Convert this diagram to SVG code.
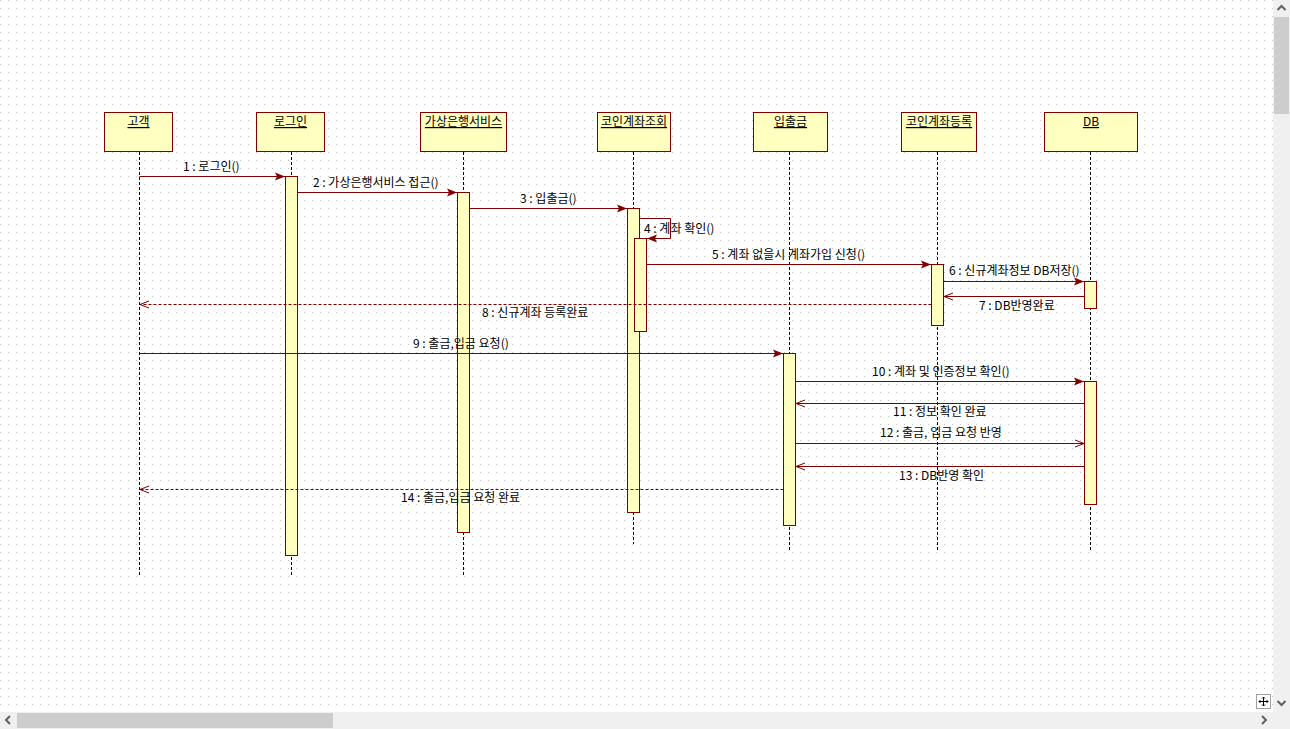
<svg xmlns="http://www.w3.org/2000/svg" width="1290" height="729" viewBox="0 0 1290 729">
<defs>
<pattern id="grid" x="0" y="0" width="8" height="8" patternUnits="userSpaceOnUse">
<rect x="0" y="0" width="1" height="1" fill="#c4c4c4"/>
</pattern>
<marker id="filled" markerWidth="11" markerHeight="9" refX="10" refY="4.5" orient="auto" markerUnits="userSpaceOnUse">
<path d="M0,0.5 L10,4.5 L0,8.5 L2,4.5 Z" fill="#800000"/>
</marker>
<marker id="open" markerWidth="10" markerHeight="9" refX="9" refY="4.5" orient="auto" markerUnits="userSpaceOnUse">
<path d="M0,1 L9,4.5 L0,8" fill="none" stroke="#800000" stroke-width="1"/>
</marker>
</defs>
<style>
.box{fill:#ffffc0;stroke:#800000;stroke-width:1}
.act{fill:#ffffc0;stroke:#800000;stroke-width:1}
.life{stroke:#000;stroke-width:1;stroke-dasharray:3 2;fill:none}
.name{font-family:"Noto Sans CJK KR","Liberation Sans",sans-serif;font-size:12px;fill:#000;text-anchor:middle;text-decoration:underline}
.lbl{font-family:"Noto Sans CJK KR","Liberation Sans",sans-serif;font-size:12px;fill:#000}
.msg{stroke:#800000;stroke-width:1;fill:none}
.call{marker-end:url(#filled)}
.ret{marker-end:url(#open)}
.dash{stroke-dasharray:3 2}
.sb{fill:#f0f0f0}
.thumb{fill:#cdcdcd}
.chev{fill:none;stroke:#606060;stroke-width:2}
</style>
<rect x="0" y="0" width="1290" height="729" fill="#ffffff"/>
<rect x="0" y="0" width="1273" height="712" fill="url(#grid)"/>

<g id="lifelines">
<line class="life" x1="139.5" y1="152" x2="139.5" y2="575"/>
<line class="life" x1="291.5" y1="152" x2="291.5" y2="575"/>
<line class="life" x1="463.5" y1="152" x2="463.5" y2="575"/>
<line class="life" x1="633.5" y1="152" x2="633.5" y2="544"/>
<line class="life" x1="789.5" y1="152" x2="789.5" y2="551"/>
<line class="life" x1="937.5" y1="152" x2="937.5" y2="551"/>
<line class="life" x1="1090.5" y1="152" x2="1090.5" y2="551"/>
</g>

<g id="node-customer">
<rect class="box" x="104.5" y="112.5" width="68" height="39"/>
<text class="name" x="138.5" y="126">고객</text>
</g>
<g id="node-login">
<rect class="box" x="256.5" y="112.5" width="68" height="39"/>
<text class="name" x="290.5" y="126">로그인</text>
</g>
<g id="node-virtualbank">
<rect class="box" x="420.5" y="112.5" width="86" height="39"/>
<text class="name" x="463.5" y="126">가상은행서비스</text>
</g>
<g id="node-coinquery">
<rect class="box" x="597.5" y="112.5" width="73" height="39"/>
<text class="name" x="634" y="126">코인계좌조회</text>
</g>
<g id="node-deposit">
<rect class="box" x="753.5" y="112.5" width="74" height="39"/>
<text class="name" x="790.5" y="126">입출금</text>
</g>
<g id="node-coinregister">
<rect class="box" x="901.5" y="112.5" width="75" height="39"/>
<text class="name" x="939" y="126">코인계좌등록</text>
</g>
<g id="node-db">
<rect class="box" x="1044.5" y="112.5" width="93" height="39"/>
<text class="name" x="1091" y="126">DB</text>
</g>

<g id="activations">
<rect class="act" x="285.5" y="176.5" width="12" height="379"/>
<rect class="act" x="457.5" y="192.5" width="12" height="340"/>
<rect class="act" x="627.5" y="208.5" width="12" height="304"/>
<rect class="act" x="634.5" y="238.5" width="12" height="93"/>
<rect class="act" x="931.5" y="264.5" width="12" height="61"/>
<rect class="act" x="1084.5" y="281.5" width="12" height="27"/>
<rect class="act" x="783.5" y="353.5" width="12" height="172"/>
<rect class="act" x="1084.5" y="381.5" width="12" height="123"/>
</g>

<g id="connectors">
<line class="msg call" x1="139.5" y1="176.5" x2="285" y2="176.5"/>
<line class="msg call" x1="297.5" y1="192.5" x2="457" y2="192.5"/>
<line class="msg call" x1="469.5" y1="208.5" x2="627" y2="208.5"/>
<polyline class="msg call" points="639.5,218.5 670.5,218.5 670.5,238.5 647,238.5"/>
<line class="msg call" x1="646.5" y1="264.5" x2="931" y2="264.5"/>
<line class="msg call" x1="943.5" y1="281.5" x2="1084" y2="281.5"/>
<line class="msg ret" x1="1084.5" y1="296.5" x2="944" y2="296.5"/>
<line class="msg ret dash" x1="931.5" y1="304.5" x2="140" y2="304.5"/>
<line class="msg call" x1="139.5" y1="353.5" x2="783" y2="353.5"/>
<line class="msg call" x1="795.5" y1="381.5" x2="1084" y2="381.5"/>
<line class="msg ret" x1="1084.5" y1="403.5" x2="796" y2="403.5"/>
<line class="msg ret" x1="795.5" y1="443.5" x2="1084" y2="443.5"/>
<line class="msg ret" x1="1084.5" y1="466.5" x2="796" y2="466.5"/>
<line class="msg ret dash" x1="783.5" y1="489.5" x2="140" y2="489.5"/>
</g>

<g id="labels">
<text class="lbl" x="183" y="171">1 : 로그인()</text>
<text class="lbl" x="313" y="187">2 : 가상은행서비스 접근()</text>
<text class="lbl" x="520" y="203">3 : 입출금()</text>
<text class="lbl" x="644" y="233">4 : 계좌 확인()</text>
<text class="lbl" x="712" y="259">5 : 계좌 없을시 계좌가입 신청()</text>
<text class="lbl" x="949" y="275">6 : 신규계좌정보 DB저장()</text>
<text class="lbl" x="979" y="310">7 : DB반영완료</text>
<text class="lbl" x="482" y="317">8 : 신규계좌 등록완료</text>
<text class="lbl" x="413" y="348">9 : 출금,입금 요청()</text>
<text class="lbl" x="872" y="376">10 : 계좌 및 인증정보 확인()</text>
<text class="lbl" x="893" y="416">11 : 정보 확인 완료</text>
<text class="lbl" x="880" y="437">12 : 출금, 입금 요청 반영</text>
<text class="lbl" x="899" y="480">13 : DB반영 확인</text>
<text class="lbl" x="401" y="502">14 : 출금,입금 요청 완료</text>
</g>

<g id="scrollbars">
<rect class="sb" x="1273" y="0" width="17" height="729"/>
<rect class="sb" x="0" y="712" width="1273" height="17"/>
<rect class="thumb" x="1274" y="17" width="15" height="97"/>
<rect class="thumb" x="17" y="713" width="316" height="15"/>
<polyline class="chev" points="1277.5,10 1281.5,6 1285.5,10"/>
<polyline class="chev" points="1277.5,701 1281.5,705 1285.5,701"/>
<polyline class="chev" points="10,716 6,720 10,724"/>
<polyline class="chev" points="1262,716 1266,720 1262,724"/>
<rect x="1256.5" y="694.5" width="14" height="14" fill="#ffffff" stroke="#a0a0a0"/>
<path d="M1263.5,697 V706 M1259,701.5 H1268 M1262,698.5 L1263.5,697 L1265,698.5 M1262,704.5 L1263.5,706 L1265,704.5 M1260.5,700 L1259,701.5 L1260.5,703 M1266.5,700 L1268,701.5 L1266.5,703" fill="none" stroke="#000" stroke-width="1"/>
</g>
</svg>
